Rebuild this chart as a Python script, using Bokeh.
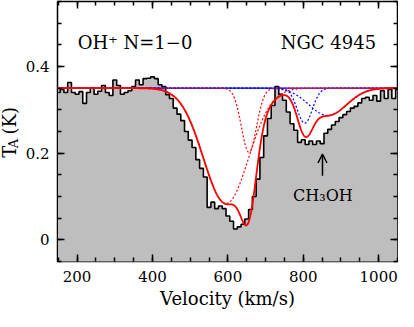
import numpy as np
from bokeh.plotting import figure
from bokeh.layouts import row
from bokeh.models import Range1d, LinearAxis, FixedTicker, Label, Arrow, OpenHead
from bokeh.embed import file_html
from bokeh.resources import INLINE

# ---- spectrum (channel velocity in km/s, antenna temperature in K) ----
velocity = [150, 160, 170, 180, 190, 200, 210, 220, 230, 240,
            250, 260, 270, 280, 290, 300, 310, 320, 330, 340,
            350, 360, 370, 380, 390, 400, 410, 420, 430, 440,
            450, 460, 470, 480, 490, 500, 510, 520, 530, 540,
            550, 560, 570, 580, 590, 600, 610, 620, 630, 640,
            650, 660, 670, 680, 690, 700, 710, 720, 730, 740,
            750, 760, 770, 780, 790, 800, 810, 820, 830, 840,
            850, 860, 870, 880, 890, 900, 910, 920, 930, 940,
            950, 960, 970, 980, 990, 1000, 1010, 1020, 1030, 1040,
            1050]
t_a = [0.340, 0.347, 0.340, 0.363, 0.340, 0.336, 0.342, 0.315, 0.340, 0.351,
       0.336, 0.343, 0.356, 0.340, 0.333, 0.369, 0.356, 0.336, 0.340, 0.344,
       0.354, 0.369, 0.358, 0.372, 0.373, 0.376, 0.372, 0.358, 0.354, 0.335,
       0.326, 0.304, 0.290, 0.275, 0.250, 0.230, 0.213, 0.185, 0.165, 0.145,
       0.075, 0.087, 0.072, 0.078, 0.072, 0.055, 0.043, 0.025, 0.030, 0.036,
       0.048, 0.070, 0.100, 0.140, 0.190, 0.240, 0.280, 0.310, 0.354, 0.336,
       0.322, 0.295, 0.268, 0.253, 0.225, 0.231, 0.220, 0.228, 0.220, 0.228,
       0.222, 0.246, 0.255, 0.265, 0.273, 0.282, 0.289, 0.296, 0.304, 0.308,
       0.316, 0.326, 0.329, 0.322, 0.333, 0.320, 0.344, 0.326, 0.347, 0.326,
       0.347]

# ---- Gaussian fit components (absorption against the continuum) ----
baseline = 0.35
red_center = [595.0, 656.0]     # OH+ components
red_depth = [0.266, 0.148]
red_sigma = [60.0, 20.0]
blue_center = [804.0, 865.0]    # other components
blue_depth = [0.081, 0.063]
blue_sigma = [20.0, 50.0]

x_lo, x_hi = 148, 1050
y_lo, y_hi = -0.05, 0.55

FONT = "DejaVu Serif"
GRAY = "#bebebe"
H = 311

p = figure(width=378, height=H, x_range=Range1d(x_lo, x_hi), y_range=Range1d(y_lo, y_hi),
           output_backend="svg", toolbar_location=None,
           min_border_left=37, min_border_right=1, min_border_top=1, min_border_bottom=48)
p.background_fill_color = "white"
p.border_fill_color = "white"
p.outline_line_color = "black"
p.outline_line_width = 1.5
p.xgrid.visible = False
p.ygrid.visible = False

# filled spectrum
p.varea_step(x=velocity, y1=[y_lo - 0.1] * len(velocity), y2=t_a, step_mode="center",
             fill_color=GRAY)
p.step(x=velocity, y=t_a, mode="center", line_color="black", line_width=1.6)

# model curves
vgrid = np.linspace(x_lo, x_hi, 903)
def gauss(c, d, s):
    return d * np.exp(-0.5 * ((vgrid - c) / s) ** 2)

p.line(vgrid, np.full_like(vgrid, baseline), line_color="blue", line_width=1.3)
total = np.zeros_like(vgrid)
for c, d, s in zip(blue_center, blue_depth, blue_sigma):
    g = gauss(c, d, s)
    total += g
    p.line(vgrid, baseline - g, line_color="blue", line_width=1.2, line_dash="2 2")
for c, d, s in zip(red_center, red_depth, red_sigma):
    g = gauss(c, d, s)
    total += g
    p.line(vgrid, baseline - g, line_color="red", line_width=1.2, line_dash="2 2")
p.line(vgrid, baseline - total, line_color="red", line_width=1.8)

# axes and ticks
x_major = [200, 400, 600, 800, 1000]
x_minor = list(range(150, 1051, 50))
y_major = [0, 0.2, 0.4]
y_minor = [round(-0.05 + 0.05 * i, 2) for i in range(13)]

def style_axis(ax):
    ax.axis_line_color = None
    ax.major_tick_in = 7
    ax.major_tick_out = 0
    ax.minor_tick_in = 4
    ax.minor_tick_out = 0
    ax.major_tick_line_width = 1.5
    ax.minor_tick_line_width = 1.5
    ax.major_tick_line_color = "black"
    ax.minor_tick_line_color = "black"
    ax.major_label_text_font = FONT
    ax.major_label_text_font_size = "15px"
    ax.major_label_text_color = "black"
    ax.axis_label_text_font = FONT
    ax.axis_label_text_font_style = "normal"
    ax.axis_label_text_font_size = "18px"
    ax.axis_label_text_color = "black"

xa = p.xaxis[0]
xa.ticker = FixedTicker(ticks=x_major, minor_ticks=x_minor)
style_axis(xa)
xa.major_label_standoff = 9
xa.axis_label = "Velocity (km/s)"
xa.axis_label_standoff = 3

ya = p.yaxis[0]
ya.ticker = FixedTicker(ticks=y_major, minor_ticks=y_minor)
style_axis(ya)
ya.major_label_standoff = 8
ya.major_label_overrides = {0: "0", 0.2: "0.2", 0.4: "0.4"}

top = LinearAxis(ticker=FixedTicker(ticks=x_major, minor_ticks=x_minor))
style_axis(top)
top.major_label_overrides = {t: "" for t in x_major}
top.major_label_standoff = 0
p.add_layout(top, "above")

right = LinearAxis(ticker=FixedTicker(ticks=y_major, minor_ticks=y_minor))
style_axis(right)
right.major_label_overrides = {0: "", 0.2: "", 0.4: ""}
right.major_label_standoff = 0
p.add_layout(right, "right")

# annotations
p.add_layout(Label(x=202, y=0.456, text="OH\u207a N=1\u22120", text_font=FONT, text_font_size="18px",
                   text_align="left", text_baseline="middle", text_color="black"))
p.add_layout(Label(x=740, y=0.456, text="NGC 4945", text_font=FONT, text_font_size="18px",
                   text_align="left", text_baseline="middle", text_color="black"))
p.add_layout(Label(x=852, y=0.103, text="CH\u2083OH", text_font=FONT, text_font_size="16px",
                   text_align="center", text_baseline="middle", text_color="black"))
p.add_layout(Arrow(end=OpenHead(size=9, line_width=1.5, line_color="black"),
                   x_start=851, y_start=0.148, x_end=851, y_end=0.198,
                   line_width=1.5, line_color="black"))

# ---- narrow panel holding the rotated y-axis title T_A (K) ----
lab = figure(width=20, height=H, x_range=Range1d(0, 20), y_range=Range1d(0, H),
             output_backend="svg", toolbar_location=None,
             x_axis_location=None, y_axis_location=None, min_border=0)
lab.outline_line_color = None
lab.grid.visible = False
lab.background_fill_color = "white"
lab.border_fill_color = "white"
ang = np.pi / 2
lab.add_layout(Label(x=8.5, y=124, text="T", angle=ang, text_font=FONT, text_font_size="18px",
                     text_align="left", text_baseline="middle", text_color="black"))
lab.add_layout(Label(x=13, y=135.5, text="A", angle=ang, text_font=FONT, text_font_size="13px",
                     text_align="left", text_baseline="middle", text_color="black"))
lab.add_layout(Label(x=8.5, y=152, text="(K)", angle=ang, text_font=FONT, text_font_size="18px",
                     text_align="left", text_baseline="middle", text_color="black"))

layout = row(lab, p)
open("out.html", "w").write(file_html(layout, INLINE))
